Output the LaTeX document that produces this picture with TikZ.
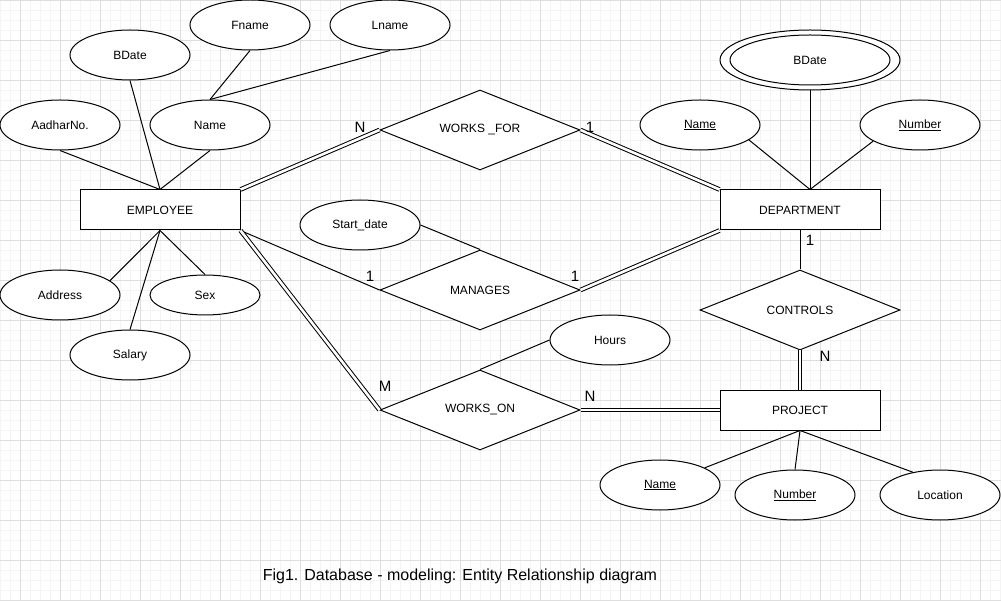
\documentclass[tikz,border=0pt]{standalone}
\usepackage{fontspec}
\setmainfont{Liberation Sans}
\usetikzlibrary{shapes.geometric}
\definecolor{gmajor}{RGB}{222,222,222}
\definecolor{gminor}{RGB}{244,244,244}
\begin{document}
\begin{tikzpicture}[x=1pt,y=-1pt,
  lbl/.style={font=\fontsize{12}{14}\selectfont},
  attr/.style={ellipse,draw,fill=white,line width=1pt,minimum width=120pt,minimum height=50pt,inner sep=0pt,lbl},
  ent/.style={rectangle,draw,fill=white,line width=1pt,minimum width=160pt,minimum height=40pt,inner sep=0pt,lbl},
  rel/.style={diamond,aspect=2.5,draw,fill=white,line width=1pt,minimum width=200pt,minimum height=80pt,inner sep=0pt,lbl},
  conn/.style={line width=1pt},
  dbl/.style={line width=1pt,double=white,double distance=2.6pt},
  card/.style={font=\fontsize{15}{18}\selectfont,inner sep=0pt}]
\useasboundingbox (0,0) rectangle (1001,601);
\fill[white] (0,0) rectangle (1001,601);
% grid
\foreach \x in {0,10,...,1000} \draw[gminor,line width=0.8pt] (\x,0) -- (\x,601);
\foreach \y in {0,10,...,600} \draw[gminor,line width=0.8pt] (0,\y) -- (1001,\y);
\foreach \x in {20,60,...,1000} \draw[gmajor,line width=0.8pt] (\x,0) -- (\x,601);
\foreach \y in {0,40,...,600} \draw[gmajor,line width=0.8pt] (0,\y) -- (1001,\y);

% entities
\node[ent] (emp) at (160,210) {EMPLOYEE};
\node[ent] (dept) at (800,210) {DEPARTMENT};
\node[ent] (proj) at (800,410) {PROJECT};

% employee attributes
\node[attr] (fname) at (250,25) {Fname};
\node[attr] (lname) at (390,25) {Lname};
\node[attr] (ebdate) at (130,55) {BDate};
\node[attr] (aadhar) at (60,125) {AadharNo.};
\node[attr] (ename) at (210,125) {Name};
\node[attr] (addr) at (60,295) {Address};
\node[attr,minimum width=110pt,minimum height=40pt] (sex) at (205,295) {Sex};
\node[attr] (salary) at (130,355) {Salary};

% relationships
\node[rel] (wf) at (480,130) {WORKS \_FOR};
\node[rel] (man) at (480,290) {MANAGES};
\node[rel] (won) at (480,410) {WORKS\_ON};
\node[rel] (ctrl) at (800,310) {CONTROLS};

\node[attr] (sdate) at (360,225) {Start\_date};
\node[attr] (hours) at (610,340) {Hours};

% department attributes
\node[attr,minimum width=180pt,minimum height=60pt] (dbdate) at (810,60) {};
\node[attr,minimum width=160pt,minimum height=50pt] (dbdatein) at (810,60) {BDate};
\node[attr] (dname) at (700,125) {\underline{Name}};
\node[attr] (dnum) at (920,125) {\underline{Number}};

% project attributes
\node[attr] (pname) at (660,485) {\underline{Name}};
\node[attr] (pnum) at (795,495) {\underline{Number}};
\node[attr] (ploc) at (940,495) {Location};

\coordinate (dtop) at ([xshift=10pt]dept.north);

% connectors
\draw[conn] (aadhar.south) -- (emp.north);
\draw[conn] (ebdate.south) -- (emp.north);
\draw[conn] (ename.south) -- (emp.north);
\draw[conn] (fname.south) -- (ename.north);
\draw[conn] (lname.south) -- (ename.north);
\draw[conn] (emp.south) -- (addr.16.7);
\draw[conn] (emp.south) -- (sex.north);
\draw[conn] (emp.south) -- (salary.north);

\draw[conn] (dbdate.south) -- (dtop);
\draw[conn] (dname.-17.4) -- (dtop);
\draw[conn] (dnum.199.5) -- (dtop);

\draw[conn] (proj.south) -- (pname.21.8);
\draw[conn] (proj.south) -- (pnum.north);
\draw[conn] (proj.south) -- (ploc.140.8);

\draw[conn] (sdate.east) -- (man.north);
\draw[conn] (hours.west) -- (won.north);

\draw[dbl] (emp.north east) -- (wf.west);
\draw[dbl] (wf.east) -- (dept.north west);
\draw[conn] (emp.south east) -- (man.west);
\draw[dbl] (man.east) -- (dept.south west);
\draw[dbl] (emp.south east) -- (won.west);
\draw[dbl] (won.east) -- (proj.west);
\draw[conn] (dept.south) -- (ctrl.north);
\draw[dbl] (ctrl.south) -- (proj.north);

% cardinalities
\node[card] (c1) at (360,127) {N};
\node[card] (c2) at (590,127) {1};
\node[card] (c3) at (370,276) {1};
\node[card] (c4) at (575,276) {1};
\node[card] (c5) at (385,386) {M};
\node[card] (c6) at (590,396) {N};
\node[card] (c7) at (810,240) {1};
\node[card] (c8) at (825,356) {N};

% caption
\node[font=\fontsize{16}{19}\selectfont,inner sep=0pt] (cap) at (460,576) {Fig1. Database - modeling: Entity Relationship diagram};
\end{tikzpicture}
\end{document}
